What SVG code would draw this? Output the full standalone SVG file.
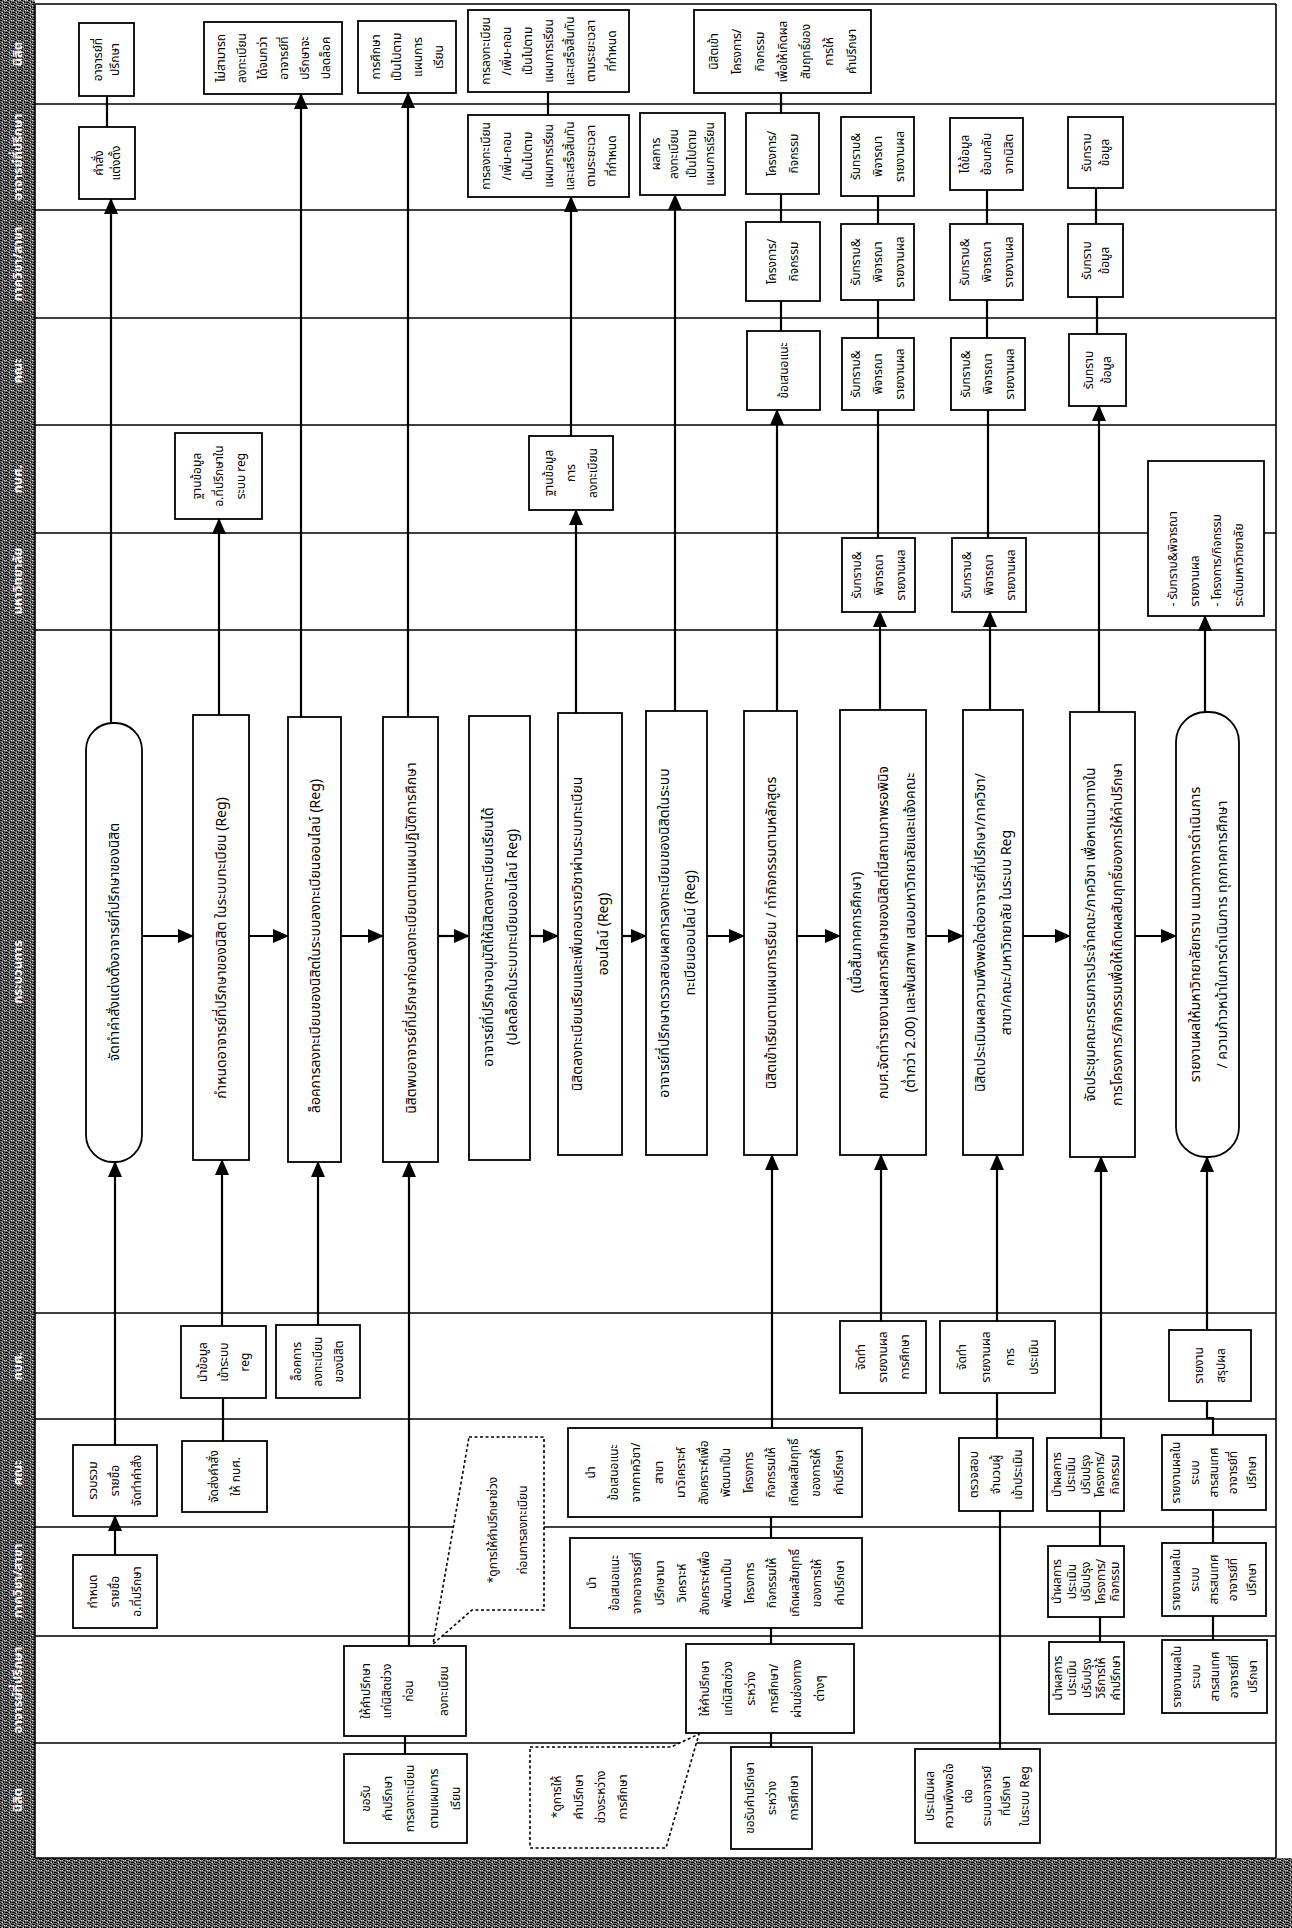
<svg xmlns="http://www.w3.org/2000/svg" width="1292" height="1928" viewBox="0 0 1292 1928">
<defs>
<pattern id="tex" width="7" height="5" patternUnits="userSpaceOnUse">
<rect width="7" height="5" fill="#6e6e6e"/>
<rect x="0" y="0" width="2" height="1" fill="#000"/>
<rect x="3" y="1" width="1" height="2" fill="#000"/>
<rect x="5" y="2" width="2" height="1" fill="#000"/>
<rect x="1" y="3" width="1" height="1" fill="#000"/>
<rect x="4" y="4" width="2" height="1" fill="#000"/>
<rect x="0" y="2" width="1" height="1" fill="#000"/>
<rect x="6" y="4" width="1" height="1" fill="#000"/>
<rect x="6" y="0" width="1" height="1" fill="#ddd"/>
<rect x="2" y="2" width="1" height="1" fill="#ddd"/>
<rect x="4" y="0" width="1" height="1" fill="#ddd"/>
</pattern>
<marker id="ah" markerUnits="userSpaceOnUse" markerWidth="16" markerHeight="14" refX="15" refY="7" orient="auto">
<path d="M0,0 L16,7 L0,14 z" fill="#000"/>
</marker>
<style>
.lane{stroke:#000;stroke-width:1.6;fill:none}
.box{fill:#fff;stroke:#000;stroke-width:1.8}
.dot{fill:#fff;stroke:#000;stroke-width:1.6;stroke-dasharray:3 2.5}
.t{font-family:'Noto Sans Thai','Noto Sans','DejaVu Sans',sans-serif;font-size:12px;text-anchor:middle;fill:#000}
.tp{font-size:14px}
.h{font-family:'Noto Sans Thai','Noto Sans','DejaVu Sans',sans-serif;font-size:13px;font-weight:bold;text-anchor:middle;fill:#fff}
.c{stroke:#000;stroke-width:2.2;fill:none}
.a{marker-end:url(#ah)}
</style>
</defs>
<rect width="1292" height="1928" fill="#fff"/>

<g id="lanes">
<rect x="0" y="0" width="35" height="1928" fill="url(#tex)"/>
<rect x="0" y="1858" width="1292" height="70" fill="url(#tex)"/>
<path class="lane" d="M35,4 H1276 M35,104 H1276 M35,210 H1276 M35,318 H1276 M35,425 H1276 M35,533 H1276 M35,630 H1276 M35,1313 H1276 M35,1419 H1276 M35,1527 H1276 M35,1636 H1276 M35,1743 H1276 M35,1858 H1276 M35,4 V1858 M1276,4 V1858"/>
<g id="lane-labels">
<text class="h" transform="translate(22,54) rotate(-90)">นิสิต</text>
<text class="h" transform="translate(22,157) rotate(-90)">อาจารย์ที่ปรึกษา</text>
<text class="h" transform="translate(22,264) rotate(-90)">ภาควิชา/สาขา</text>
<text class="h" transform="translate(22,371) rotate(-90)">คณะ</text>
<text class="h" transform="translate(22,479) rotate(-90)">กบศ.</text>
<text class="h" transform="translate(22,581) rotate(-90)">มหาวิทยาลัย</text>
<text class="h" transform="translate(22,972) rotate(-90)">กระบวนการ</text>
<text class="h" transform="translate(22,1366) rotate(-90)">กบศ.</text>
<text class="h" transform="translate(22,1473) rotate(-90)">คณะ</text>
<text class="h" transform="translate(22,1581) rotate(-90)">ภาควิชา/สาขา</text>
<text class="h" transform="translate(22,1690) rotate(-90)">อาจารย์ที่ปรึกษา</text>
<text class="h" transform="translate(22,1800) rotate(-90)">นิสิต</text>
</g>
</g>

<g id="connectors">
<path class="c a" d="M142,936 H193"/>
<path class="c a" d="M249,936 H288"/>
<path class="c a" d="M341,936 H383"/>
<path class="c a" d="M438,936 H469"/>
<path class="c a" d="M530,936 H558"/>
<path class="c a" d="M622,936 H646"/>
<path class="c a" d="M707,936 H744"/>
<path class="c a" d="M797,936 H840"/>
<path class="c a" d="M926,936 H963"/>
<path class="c a" d="M1023,936 H1070"/>
<path class="c a" d="M1135,936 H1176"/>
<path class="c" d="M107,96 V127"/>
<path class="c a" d="M111,723 V199"/>
<path class="c a" d="M115,1445 V1162"/>
<path class="c a" d="M115,1555 V1516"/>
<path class="c a" d="M219,715 V519"/>
<path class="c a" d="M222,1326 V1160"/>
<path class="c" d="M223,1441 V1398"/>
<path class="c a" d="M301,717 V94"/>
<path class="c a" d="M318,1325 V1162"/>
<path class="c a" d="M408,717 V93"/>
<path class="c a" d="M409,1646 V1162"/>
<path class="c" d="M405,1754 V1736"/>
<path class="c a" d="M576,713 V510"/>
<path class="c a" d="M571,436 V197"/>
<path class="c" d="M548,115 V92"/>
<path class="c a" d="M675,711 V195"/>
<path class="c a" d="M777,711 V410"/>
<path class="c" d="M781,331 V301 M781,222 V194 M781,113 V93"/>
<path class="c a" d="M772,1428 V1155"/>
<path class="c" d="M771,1538 V1517 M771,1644 V1628 M771,1747 V1733"/>
<path class="c a" d="M880,710 V612"/>
<path class="c" d="M878,538 V410 M878,338 V300 M878,224 V196"/>
<path class="c a" d="M881,1321 V1155"/>
<path class="c a" d="M990,710 V612"/>
<path class="c" d="M988,538 V410 M987,338 V300 M987,224 V190"/>
<path class="c a" d="M997,1321 V1155"/>
<path class="c" d="M997,1438 V1393"/>
<path class="c" d="M1000,1749 V1511"/>
<path class="c a" d="M1099,712 V406"/>
<path class="c" d="M1097,334 V297 M1096,224 V188"/>
<path class="c a" d="M1101,1438 V1157"/>
<path class="c" d="M1100,1546 V1511 M1100,1642 V1617"/>
<path class="c a" d="M1205,712 V616"/>
<path class="c a" d="M1207,1330 V1157"/>
<path class="c" d="M1207,1401 V1418 H1213 V1435 M1213,1543 V1510 M1213,1640 V1616"/>
</g>

<g id="n1a"><rect class="box" x="79" y="23" width="55" height="73"/><text class="t" transform="translate(106.5,59.5) rotate(-90)"><tspan x="0" y="-4.5">อาจารย์ที่</tspan><tspan x="0" y="12.5">ปรึกษา</tspan></text></g>
<g id="n1b"><rect class="box" x="204" y="22" width="138" height="72"/><text class="t" transform="translate(273,58) rotate(-90)"><tspan x="0" y="-48.5">ไม่สามารถ</tspan><tspan x="0" y="-27.5">ลงทะเบียน</tspan><tspan x="0" y="-6.5">ได้จนกว่า</tspan><tspan x="0" y="14.5">อาจารย์ที่</tspan><tspan x="0" y="35.5">ปรึกษาจะ</tspan><tspan x="0" y="56.5">ปลดล็อค</tspan></text></g>
<g id="n1c"><rect class="box" x="358" y="21" width="98" height="72"/><text class="t" transform="translate(407,57) rotate(-90)"><tspan x="0" y="-27.5">การศึกษา</tspan><tspan x="0" y="-6.5">เป็นไปตาม</tspan><tspan x="0" y="14.5">แผนการ</tspan><tspan x="0" y="35.5">เรียน</tspan></text></g>
<g id="n1d"><rect class="box" x="468" y="10" width="161" height="82"/><text class="t" transform="translate(548.5,51) rotate(-90)"><tspan x="0" y="-59">การลงทะเบียน</tspan><tspan x="0" y="-38">/เพิ่ม-ถอน</tspan><tspan x="0" y="-17">เป็นไปตาม</tspan><tspan x="0" y="4">แผนการเรียน</tspan><tspan x="0" y="25">และเสร็จสิ้นทัน</tspan><tspan x="0" y="46">ตามระยะเวลา</tspan><tspan x="0" y="67">ที่กำหนด</tspan></text></g>
<g id="n1e"><rect class="box" x="694" y="10" width="177" height="83"/><text class="t" transform="translate(782.5,51.5) rotate(-90)"><tspan x="0" y="-65">นิสิตเข้า</tspan><tspan x="0" y="-42">โครงการ/</tspan><tspan x="0" y="-19">กิจกรรม</tspan><tspan x="0" y="4">เพื่อให้เกิดผล</tspan><tspan x="0" y="27">สัมฤทธิ์ของ</tspan><tspan x="0" y="50">การให้</tspan><tspan x="0" y="73">คำปรึกษา</tspan></text></g>

<g id="n2a"><rect class="box" x="79" y="127" width="56" height="72"/><text class="t" transform="translate(107,163) rotate(-90)"><tspan x="0" y="-4.5">คำสั่ง</tspan><tspan x="0" y="12.5">แต่งตั้ง</tspan></text></g>
<g id="n2b"><rect class="box" x="468" y="115" width="161" height="82"/><text class="t" transform="translate(548.5,156) rotate(-90)"><tspan x="0" y="-59">การลงทะเบียน</tspan><tspan x="0" y="-38">/เพิ่ม-ถอน</tspan><tspan x="0" y="-17">เป็นไปตาม</tspan><tspan x="0" y="4">แผนการเรียน</tspan><tspan x="0" y="25">และเสร็จสิ้นทัน</tspan><tspan x="0" y="46">ตามระยะเวลา</tspan><tspan x="0" y="67">ที่กำหนด</tspan></text></g>
<g id="n2c"><rect class="box" x="640" y="113" width="85" height="82"/><text class="t" transform="translate(682.5,154) rotate(-90)"><tspan x="0" y="-23">ผลการ</tspan><tspan x="0" y="-5">ลงทะเบียน</tspan><tspan x="0" y="13">เป็นไปตาม</tspan><tspan x="0" y="31">แผนการเรียน</tspan></text></g>
<g id="n2d"><rect class="box" x="746" y="113" width="73" height="81"/><text class="t" transform="translate(782.5,153.5) rotate(-90)"><tspan x="0" y="-7">โครงการ/</tspan><tspan x="0" y="15">กิจกรรม</tspan></text></g>
<g id="n2e"><rect class="box" x="841" y="117" width="73" height="79"/><text class="t" transform="translate(877.5,156.5) rotate(-90)"><tspan x="0" y="-18">รับทราบ&amp;</tspan><tspan x="0" y="4">พิจารณา</tspan><tspan x="0" y="26">รายงานผล</tspan></text></g>
<g id="n2f"><rect class="box" x="950" y="118" width="73" height="72"/><text class="t" transform="translate(986.5,154) rotate(-90)"><tspan x="0" y="-18">ได้ข้อมูล</tspan><tspan x="0" y="4">ย้อนกลับ</tspan><tspan x="0" y="26">จากนิสิต</tspan></text></g>
<g id="n2g"><rect class="box" x="1068" y="117" width="55" height="71"/><text class="t" transform="translate(1095.5,152.5) rotate(-90)"><tspan x="0" y="-5">รับทราบ</tspan><tspan x="0" y="13">ข้อมูล</tspan></text></g>

<g id="n3a"><rect class="box" x="746" y="222" width="74" height="79"/><text class="t" transform="translate(783,261.5) rotate(-90)"><tspan x="0" y="-7">โครงการ/</tspan><tspan x="0" y="15">กิจกรรม</tspan></text></g>
<g id="n3b"><rect class="box" x="841" y="224" width="73" height="76"/><text class="t" transform="translate(877.5,262) rotate(-90)"><tspan x="0" y="-18">รับทราบ&amp;</tspan><tspan x="0" y="4">พิจารณา</tspan><tspan x="0" y="26">รายงานผล</tspan></text></g>
<g id="n3c"><rect class="box" x="950" y="224" width="73" height="76"/><text class="t" transform="translate(986.5,262) rotate(-90)"><tspan x="0" y="-18">รับทราบ&amp;</tspan><tspan x="0" y="4">พิจารณา</tspan><tspan x="0" y="26">รายงานผล</tspan></text></g>
<g id="n3d"><rect class="box" x="1068" y="224" width="55" height="73"/><text class="t" transform="translate(1095.5,260.5) rotate(-90)"><tspan x="0" y="-5">รับทราบ</tspan><tspan x="0" y="13">ข้อมูล</tspan></text></g>

<g id="n4a"><rect class="box" x="747" y="331" width="73" height="79"/><text class="t" transform="translate(783.5,370.5) rotate(-90)"><tspan x="0" y="4">ข้อเสนอแนะ</tspan></text></g>
<g id="n4b"><rect class="box" x="842" y="338" width="72" height="72"/><text class="t" transform="translate(878,374) rotate(-90)"><tspan x="0" y="-18">รับทราบ&amp;</tspan><tspan x="0" y="4">พิจารณา</tspan><tspan x="0" y="26">รายงานผล</tspan></text></g>
<g id="n4c"><rect class="box" x="951" y="338" width="74" height="72"/><text class="t" transform="translate(988,374) rotate(-90)"><tspan x="0" y="-18">รับทราบ&amp;</tspan><tspan x="0" y="4">พิจารณา</tspan><tspan x="0" y="26">รายงานผล</tspan></text></g>
<g id="n4d"><rect class="box" x="1069" y="334" width="57" height="72"/><text class="t" transform="translate(1097.5,370) rotate(-90)"><tspan x="0" y="-5">รับทราบ</tspan><tspan x="0" y="13">ข้อมูล</tspan></text></g>

<g id="n5a"><rect class="box" x="175" y="433" width="87" height="86"/><text class="t" transform="translate(218.5,476) rotate(-90)"><tspan x="0" y="-18">ฐานข้อมูล</tspan><tspan x="0" y="4">อ.ที่ปรึกษาใน</tspan><tspan x="0" y="26">ระบบ reg</tspan></text></g>
<g id="n5b"><rect class="box" x="529" y="436" width="84" height="74"/><text class="t" transform="translate(571,473) rotate(-90)"><tspan x="0" y="-18">ฐานข้อมูล</tspan><tspan x="0" y="4">การ</tspan><tspan x="0" y="26">ลงทะเบียน</tspan></text></g>

<g id="n6a"><rect class="box" x="842" y="538" width="73" height="74"/><text class="t" transform="translate(878.5,575) rotate(-90)"><tspan x="0" y="-18">รับทราบ&amp;</tspan><tspan x="0" y="4">พิจารณา</tspan><tspan x="0" y="26">รายงานผล</tspan></text></g>
<g id="n6b"><rect class="box" x="952" y="538" width="74" height="74"/><text class="t" transform="translate(989,575) rotate(-90)"><tspan x="0" y="-18">รับทราบ&amp;</tspan><tspan x="0" y="4">พิจารณา</tspan><tspan x="0" y="26">รายงานผล</tspan></text></g>
<g id="n6c"><rect class="box" x="1148" y="461" width="116" height="155"/><text class="t" style="text-anchor:start" transform="translate(1206,538.5) rotate(-90)"><tspan x="-68" y="-29">- รับทราบ&amp;พิจารณา</tspan><tspan x="-68" y="-7">รายงานผล</tspan><tspan x="-68" y="15">- โครงการ/กิจกรรม</tspan><tspan x="-68" y="37">ระดับมหาวิทยาลัย</tspan></text></g>

<g id="p1"><rect class="box" x="86" y="723" width="56" height="439" rx="27" ry="27"/><text class="t tp" transform="translate(114,942) rotate(-90)"><tspan x="0" y="5">จัดทำคำสั่งแต่งตั้งอาจารย์ที่ปรึกษาของนิสิต</tspan></text></g>
<g id="p2"><rect class="box" x="193" y="715" width="56" height="445"/><text class="t tp" transform="translate(221,948) rotate(-90)"><tspan x="0" y="5">กำหนดอาจารย์ที่ปรึกษาของนิสิต ในระบบทะเบียน (Reg)</tspan></text></g>
<g id="p3"><rect class="box" x="288" y="717" width="53" height="445"/><text class="t tp" transform="translate(314.5,946) rotate(-90)"><tspan x="0" y="5">ล็อคการลงทะเบียนของนิสิตในระบบลงทะเบียนออนไลน์ (Reg)</tspan></text></g>
<g id="p4"><rect class="box" x="383" y="717" width="55" height="445"/><text class="t tp" transform="translate(410.5,938) rotate(-90)"><tspan x="0" y="5">นิสิตพบอาจารย์ที่ปรึกษาก่อนลงทะเบียนตามแผนปฏิบัติการศึกษา</tspan></text></g>
<g id="p5"><rect class="box" x="469" y="716" width="61" height="444"/><text class="t tp" transform="translate(499.5,937) rotate(-90)"><tspan x="0" y="-7">อาจารย์ที่ปรึกษาอนุมัติให้นิสิตลงทะเบียนเรียนได้</tspan><tspan x="0" y="17">(ปลดล็อคในระบบทะเบียนออนไลน์ Reg)</tspan></text></g>
<g id="p6"><rect class="box" x="558" y="713" width="64" height="442"/><text class="t tp" transform="translate(590,934) rotate(-90)"><tspan x="0" y="-8">นิสิตลงทะเบียนเรียนและเพิ่มถอนรายวิชาผ่านระบบทะเบียน</tspan><tspan x="0" y="18">ออนไลน์ (Reg)</tspan></text></g>
<g id="p7"><rect class="box" x="646" y="711" width="61" height="444"/><text class="t tp" transform="translate(676.5,933) rotate(-90)"><tspan x="0" y="-8">อาจารย์ที่ปรึกษาตรวจสอบผลการลงทะเบียนของนิสิตในระบบ</tspan><tspan x="0" y="18">ทะเบียนออนไลน์ (Reg)</tspan></text></g>
<g id="p8"><rect class="box" x="744" y="711" width="53" height="444"/><text class="t tp" transform="translate(770.5,933) rotate(-90)"><tspan x="0" y="5">นิสิตเข้าเรียนตามแผนการเรียน / ทำกิจกรรมตามหลักสูตร</tspan></text></g>
<g id="p9"><rect class="box" x="840" y="710" width="86" height="445"/><text class="t tp" transform="translate(883,932.5) rotate(-90)"><tspan x="0" y="-22">(เมื่อสิ้นภาคการศึกษา)</tspan><tspan x="0" y="5">กบศ.จัดทำรายงานผลการศึกษาของนิสิตที่มีสถานภาพรอพินิจ</tspan><tspan x="0" y="32">(ต่ำกว่า 2.00) และพ้นสภาพ เสนอมหาวิทยาลัยและแจ้งคณะ</tspan></text></g>
<g id="p10"><rect class="box" x="963" y="710" width="60" height="445"/><text class="t tp" transform="translate(993,932.5) rotate(-90)"><tspan x="0" y="-8">นิสิตประเมินผลความพึงพอใจต่ออาจารย์ที่ปรึกษา/ภาควิชา/</tspan><tspan x="0" y="18">สาขา/คณะ/มหาวิทยาลัย ในระบบ Reg</tspan></text></g>
<g id="p11"><rect class="box" x="1070" y="712" width="65" height="445"/><text class="t tp" transform="translate(1102.5,934.5) rotate(-90)"><tspan x="0" y="-8">จัดประชุมคณะกรรมการประจำคณะ/ภาควิชา เพื่อหาแนวทางใน</tspan><tspan x="0" y="19">การโครงการ/กิจกรรมเพื่อให้เกิดผลสัมฤทธิ์ของการให้คำปรึกษา</tspan></text></g>
<g id="p12"><rect class="box" x="1176" y="712" width="63" height="445" rx="30" ry="30"/><text class="t tp" transform="translate(1207.5,934.5) rotate(-90)"><tspan x="0" y="-8">รายงานผลให้มหาวิทยาลัยทราบ แนวทางการดำเนินการ</tspan><tspan x="0" y="19">/ ความก้าวหน้าในการดำเนินการ ทุกภาคการศึกษา</tspan></text></g>

<g id="n8a"><rect class="box" x="181" y="1326" width="85" height="72"/><text class="t" transform="translate(223.5,1362) rotate(-90)"><tspan x="0" y="-17">นำข้อมูล</tspan><tspan x="0" y="4">เข้าระบบ</tspan><tspan x="0" y="25">reg</tspan></text></g>
<g id="n8b"><rect class="box" x="276" y="1325" width="84" height="73"/><text class="t" transform="translate(318,1361.5) rotate(-90)"><tspan x="0" y="-17">ล็อคการ</tspan><tspan x="0" y="4">ลงทะเบียน</tspan><tspan x="0" y="25">ของนิสิต</tspan></text></g>
<g id="n8c"><rect class="box" x="840" y="1321" width="86" height="72"/><text class="t" transform="translate(883,1357) rotate(-90)"><tspan x="0" y="-18">จัดทำ</tspan><tspan x="0" y="4">รายงานผล</tspan><tspan x="0" y="26">การศึกษา</tspan></text></g>
<g id="n8d"><rect class="box" x="940" y="1321" width="115" height="72"/><text class="t" transform="translate(997.5,1357) rotate(-90)"><tspan x="0" y="-32">จัดทำ</tspan><tspan x="0" y="-8">รายงานผล</tspan><tspan x="0" y="16">การ</tspan><tspan x="0" y="40">ประเมิน</tspan></text></g>
<g id="n8e"><rect class="box" x="1169" y="1330" width="82" height="71"/><text class="t" transform="translate(1210,1365.5) rotate(-90)"><tspan x="0" y="-7">รายงาน</tspan><tspan x="0" y="15">สรุปผล</tspan></text></g>

<g id="n9a"><rect class="box" x="73" y="1445" width="84" height="71"/><text class="t" transform="translate(115,1480.5) rotate(-90)"><tspan x="0" y="-18">รวบรวม</tspan><tspan x="0" y="4">รายชื่อ</tspan><tspan x="0" y="26">จัดทำคำสั่ง</tspan></text></g>
<g id="n9b"><rect class="box" x="182" y="1441" width="85" height="71"/><text class="t" transform="translate(224.5,1476.5) rotate(-90)"><tspan x="0" y="-7">จัดส่งคำสั่ง</tspan><tspan x="0" y="15">ให้ กบศ.</tspan></text></g>
<g id="n9c"><rect class="box" x="568" y="1428" width="294" height="89"/><text class="t" transform="translate(715,1472.5) rotate(-90)"><tspan x="0" y="-119.8">นำ</tspan><tspan x="0" y="-97.3">ข้อเสนอแนะ</tspan><tspan x="0" y="-74.8">จากภาควิชา/</tspan><tspan x="0" y="-52.3">สาขา</tspan><tspan x="0" y="-29.8">มาวิเคราะห์</tspan><tspan x="0" y="-7.3">สังเคราะห์เพื่อ</tspan><tspan x="0" y="15.3">พัฒนาเป็น</tspan><tspan x="0" y="37.8">โครงการ</tspan><tspan x="0" y="60.3">กิจกรรมให้</tspan><tspan x="0" y="82.8">เกิดผลสัมฤทธิ์</tspan><tspan x="0" y="105.3">ของการให้</tspan><tspan x="0" y="127.8">คำปรึกษา</tspan></text></g>
<g id="n9d"><rect class="box" x="959" y="1438" width="74" height="73"/><text class="t" transform="translate(996,1474.5) rotate(-90)"><tspan x="0" y="-18">ตรวจสอบ</tspan><tspan x="0" y="4">จำนวนผู้</tspan><tspan x="0" y="26">เข้าประเมิน</tspan></text></g>
<g id="n9e"><rect class="box" x="1047" y="1438" width="77" height="73"/><text class="t" transform="translate(1085.5,1474.5) rotate(-90)"><tspan x="0" y="-25">นำผลการ</tspan><tspan x="0" y="-10.5">ประเมิน</tspan><tspan x="0" y="4">ปรับปรุง</tspan><tspan x="0" y="18.5">โครงการ/</tspan><tspan x="0" y="33">กิจกรรม</tspan></text></g>
<g id="n9f"><rect class="box" x="1162" y="1435" width="104" height="75"/><text class="t" transform="translate(1214,1472.5) rotate(-90)"><tspan x="0" y="-34">รายงานผลใน</tspan><tspan x="0" y="-15">ระบบ</tspan><tspan x="0" y="4">สารสนเทศ</tspan><tspan x="0" y="23">อาจารย์ที่</tspan><tspan x="0" y="42">ปรึกษา</tspan></text></g>

<g id="n10a"><rect class="box" x="73" y="1555" width="84" height="73"/><text class="t" transform="translate(115,1591.5) rotate(-90)"><tspan x="0" y="-18">กำหนด</tspan><tspan x="0" y="4">รายชื่อ</tspan><tspan x="0" y="26">อ.ที่ปรึกษา</tspan></text></g>
<g id="callout1"><path class="dot" d="M469,1437 H544 V1610 H472 L433,1644 Z"/><text class="t" transform="translate(507,1530) rotate(-90)"><tspan x="0" y="-10">*ดูการให้คำปรึกษาช่วง</tspan><tspan x="0" y="20">ก่อนการลงทะเบียน</tspan></text></g>
<g id="n10b"><rect class="box" x="570" y="1538" width="292" height="90"/><text class="t" transform="translate(716,1583) rotate(-90)"><tspan x="0" y="-119.8">นำ</tspan><tspan x="0" y="-97.3">ข้อเสนอแนะ</tspan><tspan x="0" y="-74.8">จากอาจารย์ที่</tspan><tspan x="0" y="-52.3">ปรึกษามา</tspan><tspan x="0" y="-29.8">วิเคราะห์</tspan><tspan x="0" y="-7.3">สังเคราะห์เพื่อ</tspan><tspan x="0" y="15.3">พัฒนาเป็น</tspan><tspan x="0" y="37.8">โครงการ</tspan><tspan x="0" y="60.3">กิจกรรมให้</tspan><tspan x="0" y="82.8">เกิดผลสัมฤทธิ์</tspan><tspan x="0" y="105.3">ของการให้</tspan><tspan x="0" y="127.8">คำปรึกษา</tspan></text></g>
<g id="n10c"><rect class="box" x="1048" y="1546" width="76" height="71"/><text class="t" transform="translate(1086,1581.5) rotate(-90)"><tspan x="0" y="-25">นำผลการ</tspan><tspan x="0" y="-10.5">ประเมิน</tspan><tspan x="0" y="4">ปรับปรุง</tspan><tspan x="0" y="18.5">โครงการ/</tspan><tspan x="0" y="33">กิจกรรม</tspan></text></g>
<g id="n10d"><rect class="box" x="1162" y="1543" width="104" height="73"/><text class="t" transform="translate(1214,1579.5) rotate(-90)"><tspan x="0" y="-34">รายงานผลใน</tspan><tspan x="0" y="-15">ระบบ</tspan><tspan x="0" y="4">สารสนเทศ</tspan><tspan x="0" y="23">อาจารย์ที่</tspan><tspan x="0" y="42">ปรึกษา</tspan></text></g>

<g id="n11a"><rect class="box" x="344" y="1646" width="122" height="90"/><text class="t" transform="translate(405,1691) rotate(-90)"><tspan x="0" y="-35">ให้คำปรึกษา</tspan><tspan x="0" y="-14">แก่นิสิตช่วง</tspan><tspan x="0" y="8">ก่อน</tspan><tspan x="0" y="43">ลงทะเบียน</tspan></text></g>
<g id="n11b"><rect class="box" x="686" y="1644" width="168" height="89"/><text class="t" transform="translate(770,1688.5) rotate(-90)"><tspan x="0" y="-61">ให้คำปรึกษา</tspan><tspan x="0" y="-38">แก่นิสิตช่วง</tspan><tspan x="0" y="-15">ระหว่าง</tspan><tspan x="0" y="8">การศึกษา/</tspan><tspan x="0" y="31">ผ่านช่องทาง</tspan><tspan x="0" y="54">ต่างๆ</tspan></text></g>
<g id="n11c"><rect class="box" x="1049" y="1642" width="75" height="72"/><text class="t" transform="translate(1086.5,1678) rotate(-90)"><tspan x="0" y="-25">นำผลการ</tspan><tspan x="0" y="-10.5">ประเมิน</tspan><tspan x="0" y="4">ปรับปรุง</tspan><tspan x="0" y="18.5">วิธีการให้</tspan><tspan x="0" y="33">คำปรึกษา</tspan></text></g>
<g id="n11d"><rect class="box" x="1162" y="1640" width="105" height="73"/><text class="t" transform="translate(1214.5,1676.5) rotate(-90)"><tspan x="0" y="-34">รายงานผลใน</tspan><tspan x="0" y="-15">ระบบ</tspan><tspan x="0" y="4">สารสนเทศ</tspan><tspan x="0" y="23">อาจารย์ที่</tspan><tspan x="0" y="42">ปรึกษา</tspan></text></g>

<g id="n12a"><rect class="box" x="344" y="1754" width="123" height="89"/><text class="t" transform="translate(405.5,1798.5) rotate(-90)"><tspan x="0" y="-36">ขอรับ</tspan><tspan x="0" y="-14">คำปรึกษา</tspan><tspan x="0" y="8">การลงทะเบียน</tspan><tspan x="0" y="32">ตามแผนการ</tspan><tspan x="0" y="54">เรียน</tspan></text></g>
<g id="callout2"><path class="dot" d="M530,1747 H671 L699,1734 L666,1848 H530 Z"/><text class="t" transform="translate(590,1797) rotate(-90)"><tspan x="0" y="-29">*ดูการให้</tspan><tspan x="0" y="-7">คำปรึกษา</tspan><tspan x="0" y="15">ช่วงระหว่าง</tspan><tspan x="0" y="37">การศึกษา</tspan></text></g>
<g id="n12b"><rect class="box" x="731" y="1747" width="81" height="102"/><text class="t" transform="translate(771.5,1798) rotate(-90)"><tspan x="0" y="-18">ขอรับคำปรึกษา</tspan><tspan x="0" y="4">ระหว่าง</tspan><tspan x="0" y="26">การศึกษา</tspan></text></g>
<g id="n12c"><rect class="box" x="915" y="1749" width="125" height="94"/><text class="t" transform="translate(977.5,1796) rotate(-90)"><tspan x="0" y="-43.5">ประเมินผล</tspan><tspan x="0" y="-24.5">ความพึงพอใจ</tspan><tspan x="0" y="-5.5">ต่อ</tspan><tspan x="0" y="13.5">ระบบอาจารย์</tspan><tspan x="0" y="32.5">ที่ปรึกษา</tspan><tspan x="0" y="51.5">ในระบบ Reg</tspan></text></g>
</svg>
